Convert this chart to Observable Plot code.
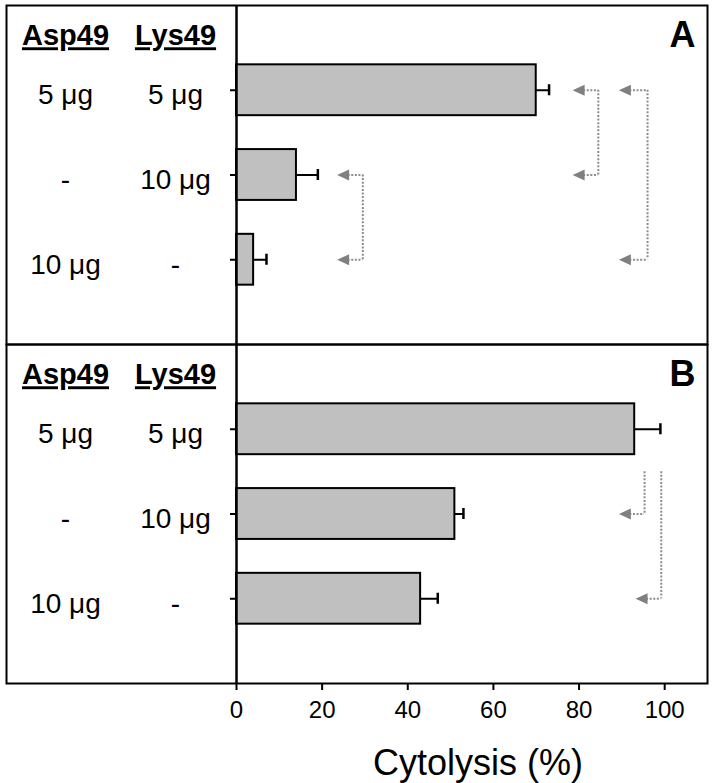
<!DOCTYPE html>
<html><head><meta charset="utf-8">
<script src="https://cdn.jsdelivr.net/npm/d3@7"></script>
<script src="https://cdn.jsdelivr.net/npm/@observablehq/plot@0.6"></script>
<style>body{margin:0;background:#fff}</style>
</head><body><div id="chart"></div>
<script>
// ---- data ----
const panels = ["A", "B"];
const rows = [1, 2, 3];
const asp49 = ["5 μg", "-", "10 μg"];
const lys49 = ["5 μg", "10 μg", "-"];
const headerAsp = "Asp49";
const headerLys = "Lys49";
const cytolysisA = [70, 14, 4];
const errorA = [3, 5, 3];
const cytolysisB = [93, 51, 43];
const errorB = [6, 2, 4];
const xTicks = [0, 20, 40, 60, 80, 100];
const xTitle = "Cytolysis (%)";
// significance brackets
const bracketPanel = ["A", "A", "A", "B", "B"];
const bracketFrom = [1, 1, 2, 1.5, 1.5];
const bracketTo = [2, 3, 3, 2, 3];
const bracketX = [84.5, 96, 29.5, 95.3, 99.2];
const bracketTip = [78.5, 89.3, 23.5, 89.3, 93.2];
const bracketArrowTop = [true, true, true, false, false];

// ---- derived tables ----
const bars = panels.flatMap(p => rows.map((r, i) => ({
  panel: p, row: r,
  value: p === "A" ? cytolysisA[i] : cytolysisB[i],
  err: p === "A" ? errorA[i] : errorB[i],
  asp: asp49[i], lys: lys49[i]
})));
const brackets = bracketPanel.map((p, i) => ({
  panel: p, from: bracketFrom[i], to: bracketTo[i], xv: bracketX[i], tip: bracketTip[i], top: bracketArrowTop[i]
}));
const arrows = brackets.flatMap(b => [
  ...(b.top ? [{panel: b.panel, y: b.from, xv: b.xv, tip: b.tip}] : []),
  {panel: b.panel, y: b.to, xv: b.xv, tip: b.tip}
]);

// left-pointing filled arrowhead, tip at the anchor point
const leftTriangle = {
  draw(ctx) {
    ctx.moveTo(0, 0);
    ctx.lineTo(12, -5.5);
    ctx.lineTo(12, 5.5);
    ctx.closePath();
  }
};

const font = "'Liberation Sans', Arial, Helvetica, sans-serif";
const gray = "#808080";

const chart = Plot.plot({
  width: 713,
  height: 783,
  marginLeft: 236,
  marginRight: 6,
  marginTop: 4,
  marginBottom: 100,
  style: {fontFamily: font, fontSize: "24px", background: "white", color: "black", overflow: "visible"},
  x: {domain: [0, 110]},
  y: {domain: [0, 4], reverse: true},
  fy: {domain: panels, padding: 0, axis: null},
  marks: [
    Plot.frame({stroke: "black", strokeWidth: 2, insetLeft: -230}),
    // bars
    Plot.rectX(bars, {fy: "panel", x: "value", y1: d => d.row - 0.3, y2: d => d.row + 0.3,
      fill: "#c0c0c0", stroke: "black", strokeWidth: 2}),
    // error bars
    Plot.ruleY(bars, {fy: "panel", y: "row", x1: "value", x2: d => d.value + d.err, stroke: "black", strokeWidth: 2}),
    Plot.ruleX(bars, {fy: "panel", x: d => d.value + d.err, y1: d => d.row - 0.065, y2: d => d.row + 0.065,
      stroke: "black", strokeWidth: 2.5}),
    // brackets
    Plot.ruleX(brackets, {fy: "panel", x: "xv", y1: "from", y2: "to", stroke: "#8c8c8c", strokeWidth: 2, strokeDasharray: "2,1.6"}),
    Plot.ruleY(arrows, {fy: "panel", y: "y", x1: "tip", x2: "xv", stroke: "#8c8c8c", strokeWidth: 2, strokeDasharray: "2,1.6", insetLeft: 11}),
    Plot.dot(arrows, {fy: "panel", x: "tip", y: "y", symbol: leftTriangle, r: 6, fill: gray, stroke: "none"}),
    // y axis line and ticks
    Plot.ruleX([0], {stroke: "black", strokeWidth: 2.5}),
    Plot.axisY({ticks: rows, tickSize: 6, tickFormat: () => "", label: null, strokeWidth: 2}),
    // x axis
    Plot.axisX({ticks: xTicks, tickSize: 7, tickPadding: 10, fontSize: 24, label: null, strokeWidth: 2}),
    // headers
    Plot.text(panels, {fy: d => d, y: () => 0.36, text: () => headerAsp, frameAnchor: "left", textAnchor: "middle",
      dx: -171, fontWeight: "bold", fontSize: 29}),
    Plot.text(panels, {fy: d => d, y: () => 0.36, text: () => headerLys, frameAnchor: "left", textAnchor: "middle",
      dx: -61, fontWeight: "bold", fontSize: 29}),
    // row labels
    Plot.text(bars, {fy: "panel", y: "row", text: "asp", frameAnchor: "left", textAnchor: "middle", dx: -171, dy: 5, fontSize: 28}),
    Plot.text(bars, {fy: "panel", y: "row", text: "lys", frameAnchor: "left", textAnchor: "middle", dx: -61, dy: 5, fontSize: 28}),
    // panel letters
    Plot.text(panels, {fy: d => d, text: d => d, frameAnchor: "top-right", textAnchor: "end", lineAnchor: "top",
      dx: -12, dy: 16, fontWeight: "bold", fontSize: 36}),
    // x title
    Plot.text([panels[1]], {fy: d => d, text: () => xTitle, frameAnchor: "bottom", lineAnchor: "middle",
      dx: 6, dy: 80, fontSize: 36})
  ]
});

d3.select(chart).selectAll("text")
  .filter(function() { return this.textContent === headerAsp || this.textContent === headerLys; })
  .style("text-decoration", "underline");

document.getElementById("chart").appendChild(chart);
</script>
</body></html>
